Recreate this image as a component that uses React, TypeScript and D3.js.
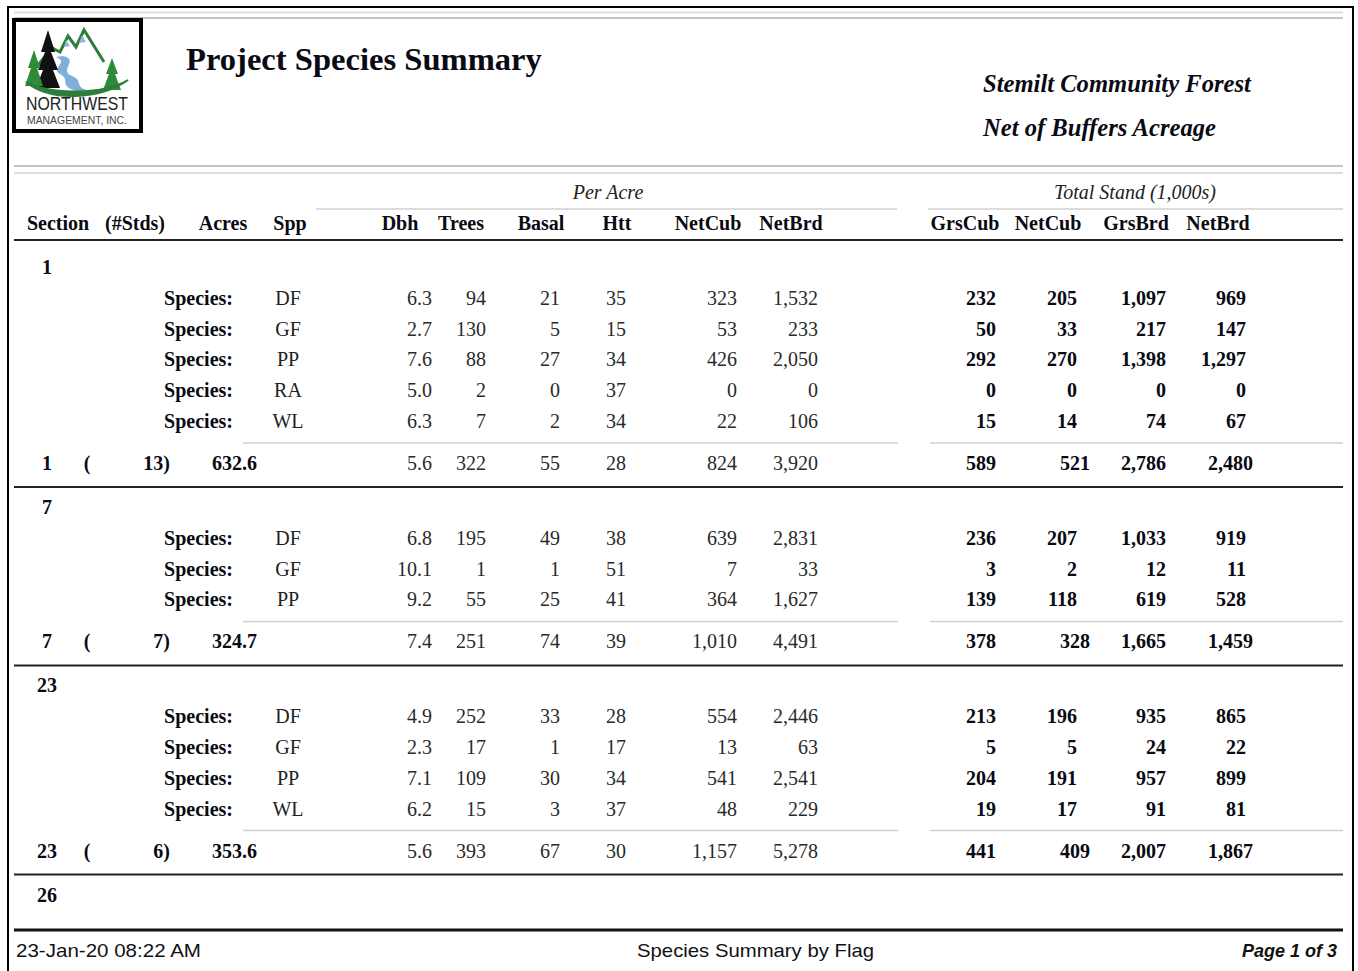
import * as d3 from "d3";
import { useEffect, useRef } from "react";

// report text
const reportTitle = "Project Species Summary";
const projectName = "Stemilt Community Forest";
const acreageNote = "Net of Buffers Acreage";
const footerLeft = "23-Jan-20 08:22 AM";
const footerCenter = "Species Summary by Flag";
const footerRight = "Page 1 of 3";

// column headers
const headerKeys = ["section", "stds", "acres", "spp", "dbh", "trees", "basal", "htt", "netCub", "netBrd", "grsCubT", "netCubT", "grsBrdT", "netBrdT"];
const headerLabels = ["Section", "(#Stds)", "Acres", "Spp", "Dbh", "Trees", "Basal", "Htt", "NetCub", "NetBrd", "GrsCub", "NetCub", "GrsBrd", "NetBrd"];

// rows: spp, dbh, trees, basal, htt, netCub, netBrd | grsCub, netCub, grsBrd, netBrd (1,000s)
const section1Rows: [string, ...number[]][] = [
  ["DF", 6.3, 94, 21, 35, 323, 1532, 232, 205, 1097, 969],
  ["GF", 2.7, 130, 5, 15, 53, 233, 50, 33, 217, 147],
  ["PP", 7.6, 88, 27, 34, 426, 2050, 292, 270, 1398, 1297],
  ["RA", 5.0, 2, 0, 37, 0, 0, 0, 0, 0, 0],
  ["WL", 6.3, 7, 2, 34, 22, 106, 15, 14, 74, 67],
];
const section7Rows: [string, ...number[]][] = [
  ["DF", 6.8, 195, 49, 38, 639, 2831, 236, 207, 1033, 919],
  ["GF", 10.1, 1, 1, 51, 7, 33, 3, 2, 12, 11],
  ["PP", 9.2, 55, 25, 41, 364, 1627, 139, 118, 619, 528],
];
const section23Rows: [string, ...number[]][] = [
  ["DF", 4.9, 252, 33, 28, 554, 2446, 213, 196, 935, 865],
  ["GF", 2.3, 17, 1, 17, 13, 63, 5, 5, 24, 22],
  ["PP", 7.1, 109, 30, 34, 541, 2541, 204, 191, 957, 899],
  ["WL", 6.2, 15, 3, 37, 48, 229, 19, 17, 91, 81],
];

const sectionIds = ["1", "7", "23"];
const sectionStands = [13, 7, 6];
const sectionAcres = [632.6, 324.7, 353.6];
const sectionTotals = [
  [5.6, 322, 55, 28, 824, 3920, 589, 521, 2786, 2480],
  [7.4, 251, 74, 39, 1010, 4491, 378, 328, 1665, 1459],
  [5.6, 393, 67, 30, 1157, 5278, 441, 409, 2007, 1867],
];
const sectionRows = [section1Rows, section7Rows, section23Rows];
const nextSectionId = "26";

const valueKeys = ["dbh", "trees", "basal", "htt", "netCub", "netBrd", "grsCubT", "netCubT", "grsBrdT", "netBrdT"];

const SERIF = "'Liberation Serif', 'Times New Roman', serif";
const SANS = "'Liberation Sans', Arial, sans-serif";

const App = () => {
  const ref = useRef<SVGSVGElement>(null);
  const width = 1358;
  const height = 971;

  useEffect(() => {
    document.body.style.margin = "0";
    const svg = d3.select(ref.current);
    svg.selectAll("*").remove();

    const left = 14, right = 1343;

    // outer page frame
    svg.append("rect").attr("x", 8).attr("y", 7).attr("width", 1345).attr("height", 980)
      .attr("fill", "none").attr("stroke", "#000").attr("stroke-width", 2);

    const hline = (y: number, x1: number, x2: number, color: string, w: number) =>
      svg.append("line").attr("x1", x1).attr("x2", x2).attr("y1", y).attr("y2", y)
        .attr("stroke", color).attr("stroke-width", w);

    hline(12.5, left, right, "#dedede", 2);
    hline(18, left, right, "#c4c4c4", 2);
    hline(166, left, right, "#c4c4c4", 2);
    hline(173, left, right, "#dedede", 2);
    hline(209, 316, 897, "#dcdcdc", 2);
    hline(209, 928, right, "#dcdcdc", 2);
    hline(240, left, right, "#222", 2);

    // logo
    const logo = svg.append("g");
    logo.append("rect").attr("x", 14).attr("y", 20).attr("width", 127).attr("height", 111)
      .attr("fill", "#fff").attr("stroke", "#000").attr("stroke-width", 4);
    logo.append("path").attr("d", "M30,75 L52,48 L60,52 L68,36 L76,47 L84,30 L104,62")
      .attr("fill", "none").attr("stroke", "#2e7d3a").attr("stroke-width", 3).attr("stroke-linejoin", "miter");
    logo.append("path").attr("d", "M66,40 L70,46 L64,47 Z M82,35 L86,42 L79,43 Z").attr("fill", "#8fb8dc");
    logo.append("path").attr("d", "M63,56 C80,60 58,70 72,76 C86,82 70,88 96,92 L80,92 C56,86 72,80 60,74 C50,68 70,62 56,57 Z")
      .attr("fill", "#7fb0da");
    logo.append("path").attr("d", "M48,30 L55,52 L51,52 L58,70 L53,70 L60,88 L36,88 L43,70 L38,70 L45,52 L41,52 Z")
      .attr("fill", "#111");
    logo.append("path").attr("d", "M34,50 L40,68 L37,68 L43,86 L25,86 L31,68 L28,68 Z").attr("fill", "#2e8b3a");
    logo.append("path").attr("d", "M112,58 L118,74 L115,74 L121,90 L103,90 L109,74 L106,74 Z").attr("fill", "#2e8b3a");
    logo.append("path").attr("d", "M26,82 C50,102 100,100 128,80 C104,94 52,96 26,82 Z")
      .attr("fill", "#2e7d3a").attr("stroke", "#2e7d3a").attr("stroke-width", 2);
    logo.append("text").attr("x", 26).attr("y", 110).attr("textLength", 102).attr("lengthAdjust", "spacingAndGlyphs")
      .attr("font-family", SANS).attr("font-size", 19).attr("fill", "#222").text("NORTHWEST");
    logo.append("text").attr("x", 27).attr("y", 124).attr("textLength", 100).attr("lengthAdjust", "spacingAndGlyphs")
      .attr("font-family", SANS).attr("font-size", 11).attr("fill", "#444").text("MANAGEMENT, INC.");

    // titles
    svg.append("text").attr("x", 186).attr("y", 70).attr("font-family", SERIF).attr("font-size", 32.6)
      .attr("font-weight", "bold").attr("fill", "#0a0a14").text(reportTitle);
    svg.append("text").attr("x", 983).attr("y", 92).attr("font-family", SERIF).attr("font-size", 24.6)
      .attr("font-weight", "bold").attr("font-style", "italic").attr("fill", "#0a0a14").text(projectName);
    svg.append("text").attr("x", 983).attr("y", 136).attr("font-family", SERIF).attr("font-size", 24.6)
      .attr("font-weight", "bold").attr("font-style", "italic").attr("fill", "#0a0a14").text(acreageNote);

    svg.append("text").attr("x", 608).attr("y", 199).attr("text-anchor", "middle").attr("font-family", SERIF)
      .attr("font-size", 20).attr("font-style", "italic").attr("fill", "#222").text("Per Acre");
    svg.append("text").attr("x", 1135).attr("y", 199).attr("text-anchor", "middle").attr("font-family", SERIF)
      .attr("font-size", 20).attr("font-style", "italic").attr("fill", "#222").text("Total Stand (1,000s)");

    // header centers
    const headerX = d3.scaleOrdinal<string, number>().domain(headerKeys)
      .range([58, 135, 223, 290, 400, 461, 541, 617, 708, 791, 965, 1048, 1136, 1218]);
    svg.append("g").selectAll("text").data(headerKeys).enter().append("text")
      .attr("x", d => headerX(d)).attr("y", 230).attr("text-anchor", "middle")
      .attr("font-family", SERIF).attr("font-size", 20).attr("font-weight", "bold").attr("fill", "#0a0a14")
      .text((d, i) => headerLabels[i]);

    // right edge of each value column
    const colX = d3.scaleOrdinal<string, number>().domain(valueKeys)
      .range([432, 486, 560, 626, 737, 818, 996, 1077, 1166, 1246]);
    const totalColX = d3.scaleOrdinal<string, number>().domain(valueKeys)
      .range([432, 486, 560, 626, 737, 818, 996, 1090, 1166, 1253]);
    const fmtDbh = d3.format(".1f");
    const fmtInt = d3.format(",");
    const fmtAcres = d3.format(".1f");
    const fmt = (k: string, v: number) => (k === "dbh" ? fmtDbh(v) : fmtInt(v));
    const isStand = (k: string) => k.endsWith("T");

    const rowStep = 30.8;
    let y0 = 267;

    const txt = (g: any, x: number, y: number, s: string, anchor: string, bold: boolean, color = "#0a0a14") =>
      g.append("text").attr("x", x).attr("y", y).attr("dy", "0.35em").attr("text-anchor", anchor)
        .attr("font-family", SERIF).attr("font-size", 20).attr("font-weight", bold ? "bold" : "normal")
        .attr("fill", color).text(s);

    sectionIds.forEach((id, si) => {
      const rows = sectionRows[si];
      const g = svg.append("g");
      const yRow = d3.scaleLinear().domain([0, 1]).range([y0, y0 + rowStep]);
      txt(g, 47, y0, id, "middle", true);

      const rowG = g.selectAll("g.row").data(rows).enter().append("g").attr("class", "row")
        .attr("transform", (d, i) => `translate(0,${yRow(i + 1)})`);
      rowG.append("text").attr("x", 233).attr("dy", "0.35em").attr("text-anchor", "end")
        .attr("font-family", SERIF).attr("font-size", 20).attr("font-weight", "bold").attr("fill", "#0a0a14").text("Species:");
      rowG.append("text").attr("x", 288).attr("dy", "0.35em").attr("text-anchor", "middle")
        .attr("font-family", SERIF).attr("font-size", 20).attr("fill", "#222").text(d => d[0]);
      valueKeys.forEach((k, ki) => {
        rowG.append("text").attr("x", colX(k)).attr("dy", "0.35em").attr("text-anchor", "end")
          .attr("font-family", SERIF).attr("font-size", 20)
          .attr("font-weight", isStand(k) ? "bold" : "normal")
          .attr("fill", isStand(k) ? "#0a0a14" : "#2a2a2a")
          .text(d => fmt(k, d[ki + 1] as number));
      });

      const last = yRow(rows.length);
      hline(last + 22, 243, 898, "#cfcfcf", 1.5);
      hline(last + 22, 930, right, "#cfcfcf", 1.5);

      const yt = last + 42;
      txt(g, 47, yt, id, "middle", true);
      txt(g, 87, yt, "(", "middle", true);
      txt(g, 170, yt, `${sectionStands[si]})`, "end", true);
      txt(g, 257, yt, fmtAcres(sectionAcres[si]), "end", true);
      valueKeys.forEach((k, ki) => {
        txt(g, totalColX(k), yt, fmt(k, sectionTotals[si][ki]), "end", isStand(k), isStand(k) ? "#0a0a14" : "#2a2a2a");
      });

      hline(yt + 24, left, right, "#222", 2);
      y0 = yt + 44;
    });

    txt(svg, 47, y0, nextSectionId, "middle", true);

    // footer
    hline(930, left, right, "#111", 3);
    svg.append("text").attr("x", 16).attr("y", 957).attr("font-family", SANS).attr("font-size", 19)
      .attr("textLength", 185).attr("lengthAdjust", "spacingAndGlyphs").attr("fill", "#111").text(footerLeft);
    svg.append("text").attr("x", 637).attr("y", 957).attr("font-family", SANS)
      .attr("font-size", 19).attr("textLength", 237).attr("lengthAdjust", "spacingAndGlyphs")
      .attr("fill", "#111").text(footerCenter);
    svg.append("text").attr("x", 1337).attr("y", 957).attr("text-anchor", "end").attr("font-family", SANS)
      .attr("font-size", 18).attr("font-weight", "bold").attr("font-style", "italic").attr("fill", "#111").text(footerRight);
  }, []);

  return <svg ref={ref} width={width} height={height} style={{ display: "block", background: "#fff" }}></svg>;
};

export default App;
